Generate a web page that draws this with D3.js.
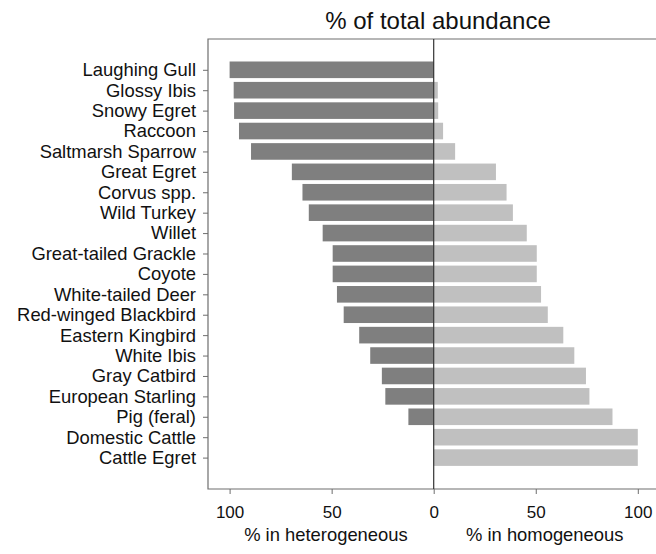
<!DOCTYPE html>
<html>
<head>
<meta charset="utf-8">
<script src="https://cdn.jsdelivr.net/npm/d3@7"></script>
<style>
  html, body { margin: 0; padding: 0; background: #fff; }
  svg { display: block; font-family: "Liberation Sans", Arial, Helvetica, sans-serif; }
</style>
</head>
<body>
<svg id="chart" width="656" height="554"></svg>
<script>
// Species, top to bottom
const species = [
  "Laughing Gull", "Glossy Ibis", "Snowy Egret", "Raccoon", "Saltmarsh Sparrow",
  "Great Egret", "Corvus spp.", "Wild Turkey", "Willet", "Great-tailed Grackle",
  "Coyote", "White-tailed Deer", "Red-winged Blackbird", "Eastern Kingbird",
  "White Ibis", "Gray Catbird", "European Starling", "Pig (feral)",
  "Domestic Cattle", "Cattle Egret"
];

// Share of total abundance found in heterogeneous habitat (%)
const heterogeneous = [
  100, 98, 97.8, 95.4, 89.5,
  69.5, 64.3, 61.2, 54.4, 49.5,
  49.5, 47.4, 44.1, 36.5,
  31.1, 25.4, 23.7, 12.4,
  0, 0
];

// Share of total abundance found in homogeneous habitat (%)
const homogeneous = [
  0, 2, 2.2, 4.6, 10.5,
  30.5, 35.7, 38.8, 45.6, 50.5,
  50.5, 52.6, 55.9, 63.5,
  68.9, 74.6, 76.3, 87.6,
  100, 100
];

const xTicks = [-100, -50, 0, 50, 100];
const titleText = "% of total abundance";
const leftAxisTitle = "% in heterogeneous";
const rightAxisTitle = "% in homogeneous";

const svg = d3.select("#chart");
const plot = { left: 208, right: 662, top: 39, bottom: 489 };

// Signed scale: heterogeneous to the left of zero, homogeneous to the right
const x = d3.scaleLinear().domain([-100, 100]).range([229.6, 637.8]);
const y = d3.scalePoint().domain(species).range([69.8, 457.6]);
const barH = 16.6;

const rows = species.map((s, i) => ({ name: s, het: heterogeneous[i], hom: homogeneous[i] }));

// Heterogeneous bars (dark)
svg.append("g").selectAll("rect")
  .data(rows.filter(d => d.het > 0))
  .join("rect")
  .attr("x", d => x(-d.het))
  .attr("y", d => y(d.name) - barH / 2)
  .attr("width", d => x(0) - x(-d.het))
  .attr("height", barH)
  .attr("fill", "#7f7f7f");

// Homogeneous bars (light)
svg.append("g").selectAll("rect")
  .data(rows.filter(d => d.hom > 0))
  .join("rect")
  .attr("x", x(0))
  .attr("y", d => y(d.name) - barH / 2)
  .attr("width", d => x(d.hom) - x(0))
  .attr("height", barH)
  .attr("fill", "#c0c0c0");

// Plot frame (open on the right)
const frameColor = "#6e6e6e";
svg.append("path")
  .attr("d", `M${plot.right},${plot.top}H${plot.left}V${plot.bottom}H${plot.right}`)
  .attr("fill", "none")
  .attr("stroke", frameColor)
  .attr("stroke-width", 1.2);

// Zero line
svg.append("line")
  .attr("x1", x(0)).attr("x2", x(0))
  .attr("y1", plot.top).attr("y2", plot.bottom)
  .attr("stroke", "#333")
  .attr("stroke-width", 1.2);

// Category axis
const yAxis = svg.append("g")
  .attr("transform", `translate(${plot.left},0)`)
  .call(d3.axisLeft(y).tickSize(5).tickPadding(7));
yAxis.select(".domain").remove();
yAxis.selectAll(".tick line").attr("stroke", frameColor);
yAxis.selectAll(".tick text")
  .attr("font-size", "18.4px")
  .attr("fill", "#111")
  .attr("font-family", "Liberation Sans, Arial, sans-serif");

// Value axis
const xAxis = svg.append("g")
  .attr("transform", `translate(0,${plot.bottom})`)
  .call(d3.axisBottom(x).tickValues(xTicks).tickFormat(d => Math.abs(d)).tickSize(5).tickPadding(12));
xAxis.select(".domain").remove();
xAxis.selectAll(".tick line").attr("stroke", frameColor);
xAxis.selectAll(".tick text")
  .attr("font-size", "17px")
  .attr("fill", "#111")
  .attr("font-family", "Liberation Sans, Arial, sans-serif");

// Title
svg.append("text")
  .attr("x", 438).attr("y", 29)
  .attr("text-anchor", "middle")
  .attr("font-size", "24px")
  .attr("fill", "#111")
  .text(titleText);

// Axis titles
svg.append("text")
  .attr("x", x(-52.8)).attr("y", 541)
  .attr("text-anchor", "middle")
  .attr("font-size", "18.4px")
  .attr("fill", "#111")
  .text(leftAxisTitle);

svg.append("text")
  .attr("x", x(54.4)).attr("y", 541)
  .attr("text-anchor", "middle")
  .attr("font-size", "18.4px")
  .attr("fill", "#111")
  .text(rightAxisTitle);
</script>
</body>
</html>
